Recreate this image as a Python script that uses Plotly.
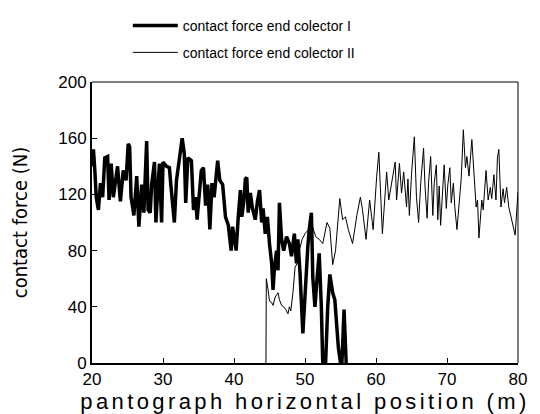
import plotly.graph_objects as go

# Series I: contact force end collector I (thick line)
x_I = [20.0, 20.2, 20.4, 20.6, 20.9, 21.2, 21.5, 21.8, 22.2, 22.4, 22.7, 23.0, 23.6, 24.0, 24.4, 24.8,
       25.1, 25.3, 25.5, 25.9, 26.3, 26.6, 27.0, 27.3, 27.7, 27.9, 28.2, 28.4, 28.8, 29.0, 29.2, 29.5,
       29.8, 30.0, 30.5, 30.9, 31.1, 31.6, 31.9, 32.4, 32.7, 33.0, 33.2, 33.5, 34.0, 34.3, 34.6, 34.8,
       35.2, 35.4, 35.7, 36.0, 36.3, 36.6, 36.9, 37.2, 37.7, 38.0, 38.4, 38.8, 39.2, 39.6, 39.8, 40.0,
       40.3, 40.6, 40.9, 41.1, 41.4, 41.6, 41.8, 42.0, 42.3, 42.6, 43.0, 43.3, 43.6, 43.9, 44.1, 44.4,
       44.7, 45.0, 45.3, 45.5, 45.7, 46.0, 46.2, 46.4, 46.7, 47.0, 47.4, 47.8, 48.1, 48.5, 48.8, 49.0,
       49.3, 49.7, 50.1, 50.4, 50.6, 50.9, 51.1, 51.4, 51.7, 52.0, 52.3, 52.5, 52.9, 53.2, 53.5, 53.9,
       54.2, 54.5, 54.7, 55.0, 55.2, 55.5, 55.8, 56.0]
f_I = [140, 152, 137, 118, 109, 128, 118, 146, 147, 116, 142, 118, 140, 115, 137, 130,
       156, 154, 118, 105, 133, 97, 127, 107, 158, 109, 107, 127, 143, 100, 118, 142,
       100, 143, 140, 139, 127, 100, 130, 149, 160, 149, 114, 146, 144, 109, 118, 102,
       130, 137, 139, 112, 127, 95, 128, 118, 144, 130, 127, 104, 98, 80, 97, 88,
       80, 104, 123, 104, 116, 131, 132, 107, 121, 110, 102, 115, 123, 100, 110, 92,
       104, 85, 71, 52, 68, 80, 66, 114, 88, 80, 90, 85, 76, 92, 71, 88,
       64, 21, 60, 83, 95, 107, 61, 40, 60, 78, 40, 0, 0, 40, 63, 50,
       45, 20, 11, 0, 0, 38, 0, 0]

# Series II: contact force end collector II (thin line)
x_II = [44.5, 44.55, 44.8, 45.0, 45.3, 45.5, 45.8, 46.2, 46.4, 46.7, 47.0, 47.3, 47.6, 47.8, 48.0, 48.3,
        48.6, 48.9, 49.2, 49.6, 50.0, 50.5, 51.0, 51.5, 52.0, 52.5, 53.1, 53.5, 53.9, 54.3, 54.9, 55.3,
        55.7, 56.1, 56.7, 57.3, 57.8, 58.1, 58.6, 59.1, 59.4, 59.6, 60.1, 60.4, 60.9, 61.2, 61.5, 61.8,
        62.2, 62.7, 62.9, 63.3, 63.6, 63.9, 64.3, 64.5, 64.7, 65.0, 65.4, 65.7, 66.0, 66.3, 66.7, 66.9,
        67.2, 67.4, 67.7, 68.0, 68.2, 68.5, 68.7, 68.9, 69.1, 69.4, 69.6, 69.9, 70.1, 70.4, 70.6, 70.9,
        71.1, 71.4, 71.7, 72.0, 72.3, 72.6, 72.8, 73.1, 73.5, 73.8, 74.1, 74.3, 74.5, 74.9, 75.1, 75.5,
        75.8, 76.1, 76.3, 76.6, 76.9, 77.1, 77.3, 77.6, 77.9, 78.1, 78.4, 78.7, 79.0, 79.6, 80.0]
f_II = [0, 60, 52, 44, 43, 41, 47, 50, 45, 41, 40, 38, 35, 40, 37, 50,
        68, 71, 80, 88, 92, 95, 98, 90, 88, 85, 100, 96, 70, 80, 117, 102,
        104, 95, 85, 105, 118, 109, 88, 116, 102, 95, 133, 150, 92, 116, 136, 116,
        128, 143, 116, 142, 121, 136, 111, 131, 105, 134, 161, 118, 100, 128, 153, 126,
        103, 128, 147, 105, 128, 141, 102, 126, 98, 127, 141, 110, 126, 139, 114, 128,
        111, 95, 113, 131, 166, 139, 147, 133, 159, 136, 111, 116, 89, 116, 109, 137,
        116, 125, 117, 134, 116, 146, 152, 111, 124, 114, 125, 111, 105, 91, 122]

x_ticks = [20, 30, 40, 50, 60, 70, 80]
y_ticks = [0, 40, 80, 120, 160, 200]

fig = go.Figure()
fig.add_trace(go.Scatter(x=x_I, y=f_I, mode="lines", name="contact force end colector I",
                         line=dict(color="black", width=3.5), legend="legend"))
fig.add_trace(go.Scatter(x=x_II, y=f_II, mode="lines", name="contact force end colector II",
                         line=dict(color="black", width=1), legend="legend2"))

font_main = "Liberation Sans, Arial, sans-serif"

# the page body adds an 8px offset, so the figure is 532x406
fig.update_layout(
    width=532, height=406,
    margin=dict(l=84, r=22, t=74, b=51, autoexpand=False),
    paper_bgcolor="white", plot_bgcolor="white",
    showlegend=True,
    legend=dict(x=0.084, y=1.2, xanchor="left", yanchor="middle", bgcolor="rgba(0,0,0,0)",
                font=dict(family=font_main, size=14, color="black"), itemwidth=45),
    legend2=dict(x=0.084, y=1.104, xanchor="left", yanchor="middle", bgcolor="rgba(0,0,0,0)",
                 font=dict(family=font_main, size=14, color="black"), itemwidth=45),
    xaxis=dict(range=[20, 80], tickvals=x_ticks, ticks="inside", ticklen=5, tickcolor="black",
               showline=True, linecolor="black", linewidth=2, showgrid=False, zeroline=False,
               tickfont=dict(family=font_main, size=17, color="black"),
               title=dict(text='<span style="letter-spacing:3.4px">pantograph horizontal position (m)</span>',
                          font=dict(family=font_main, size=22, color="black"),
                          standoff=0)),
    yaxis=dict(range=[0, 200], tickvals=y_ticks, ticks="inside", ticklen=5, tickcolor="black",
               showline=True, linecolor="black", linewidth=2, showgrid=False, zeroline=False,
               tickfont=dict(family=font_main, size=17, color="black"),
               title=dict(text="contact force (N)",
                          font=dict(family="Liberation Sans Narrow, DejaVu Sans Condensed, Arial Narrow, sans-serif",
                                    size=20, color="black"),
                          standoff=26)),
    shapes=[
        dict(type="line", xref="paper", yref="paper", x0=0, x1=1, y0=1, y1=1,
             line=dict(color="black", width=1)),
        dict(type="line", xref="paper", yref="paper", x0=1, x1=1, y0=0, y1=1,
             line=dict(color="black", width=1)),
    ],
)

fig.write_html("out.html")
